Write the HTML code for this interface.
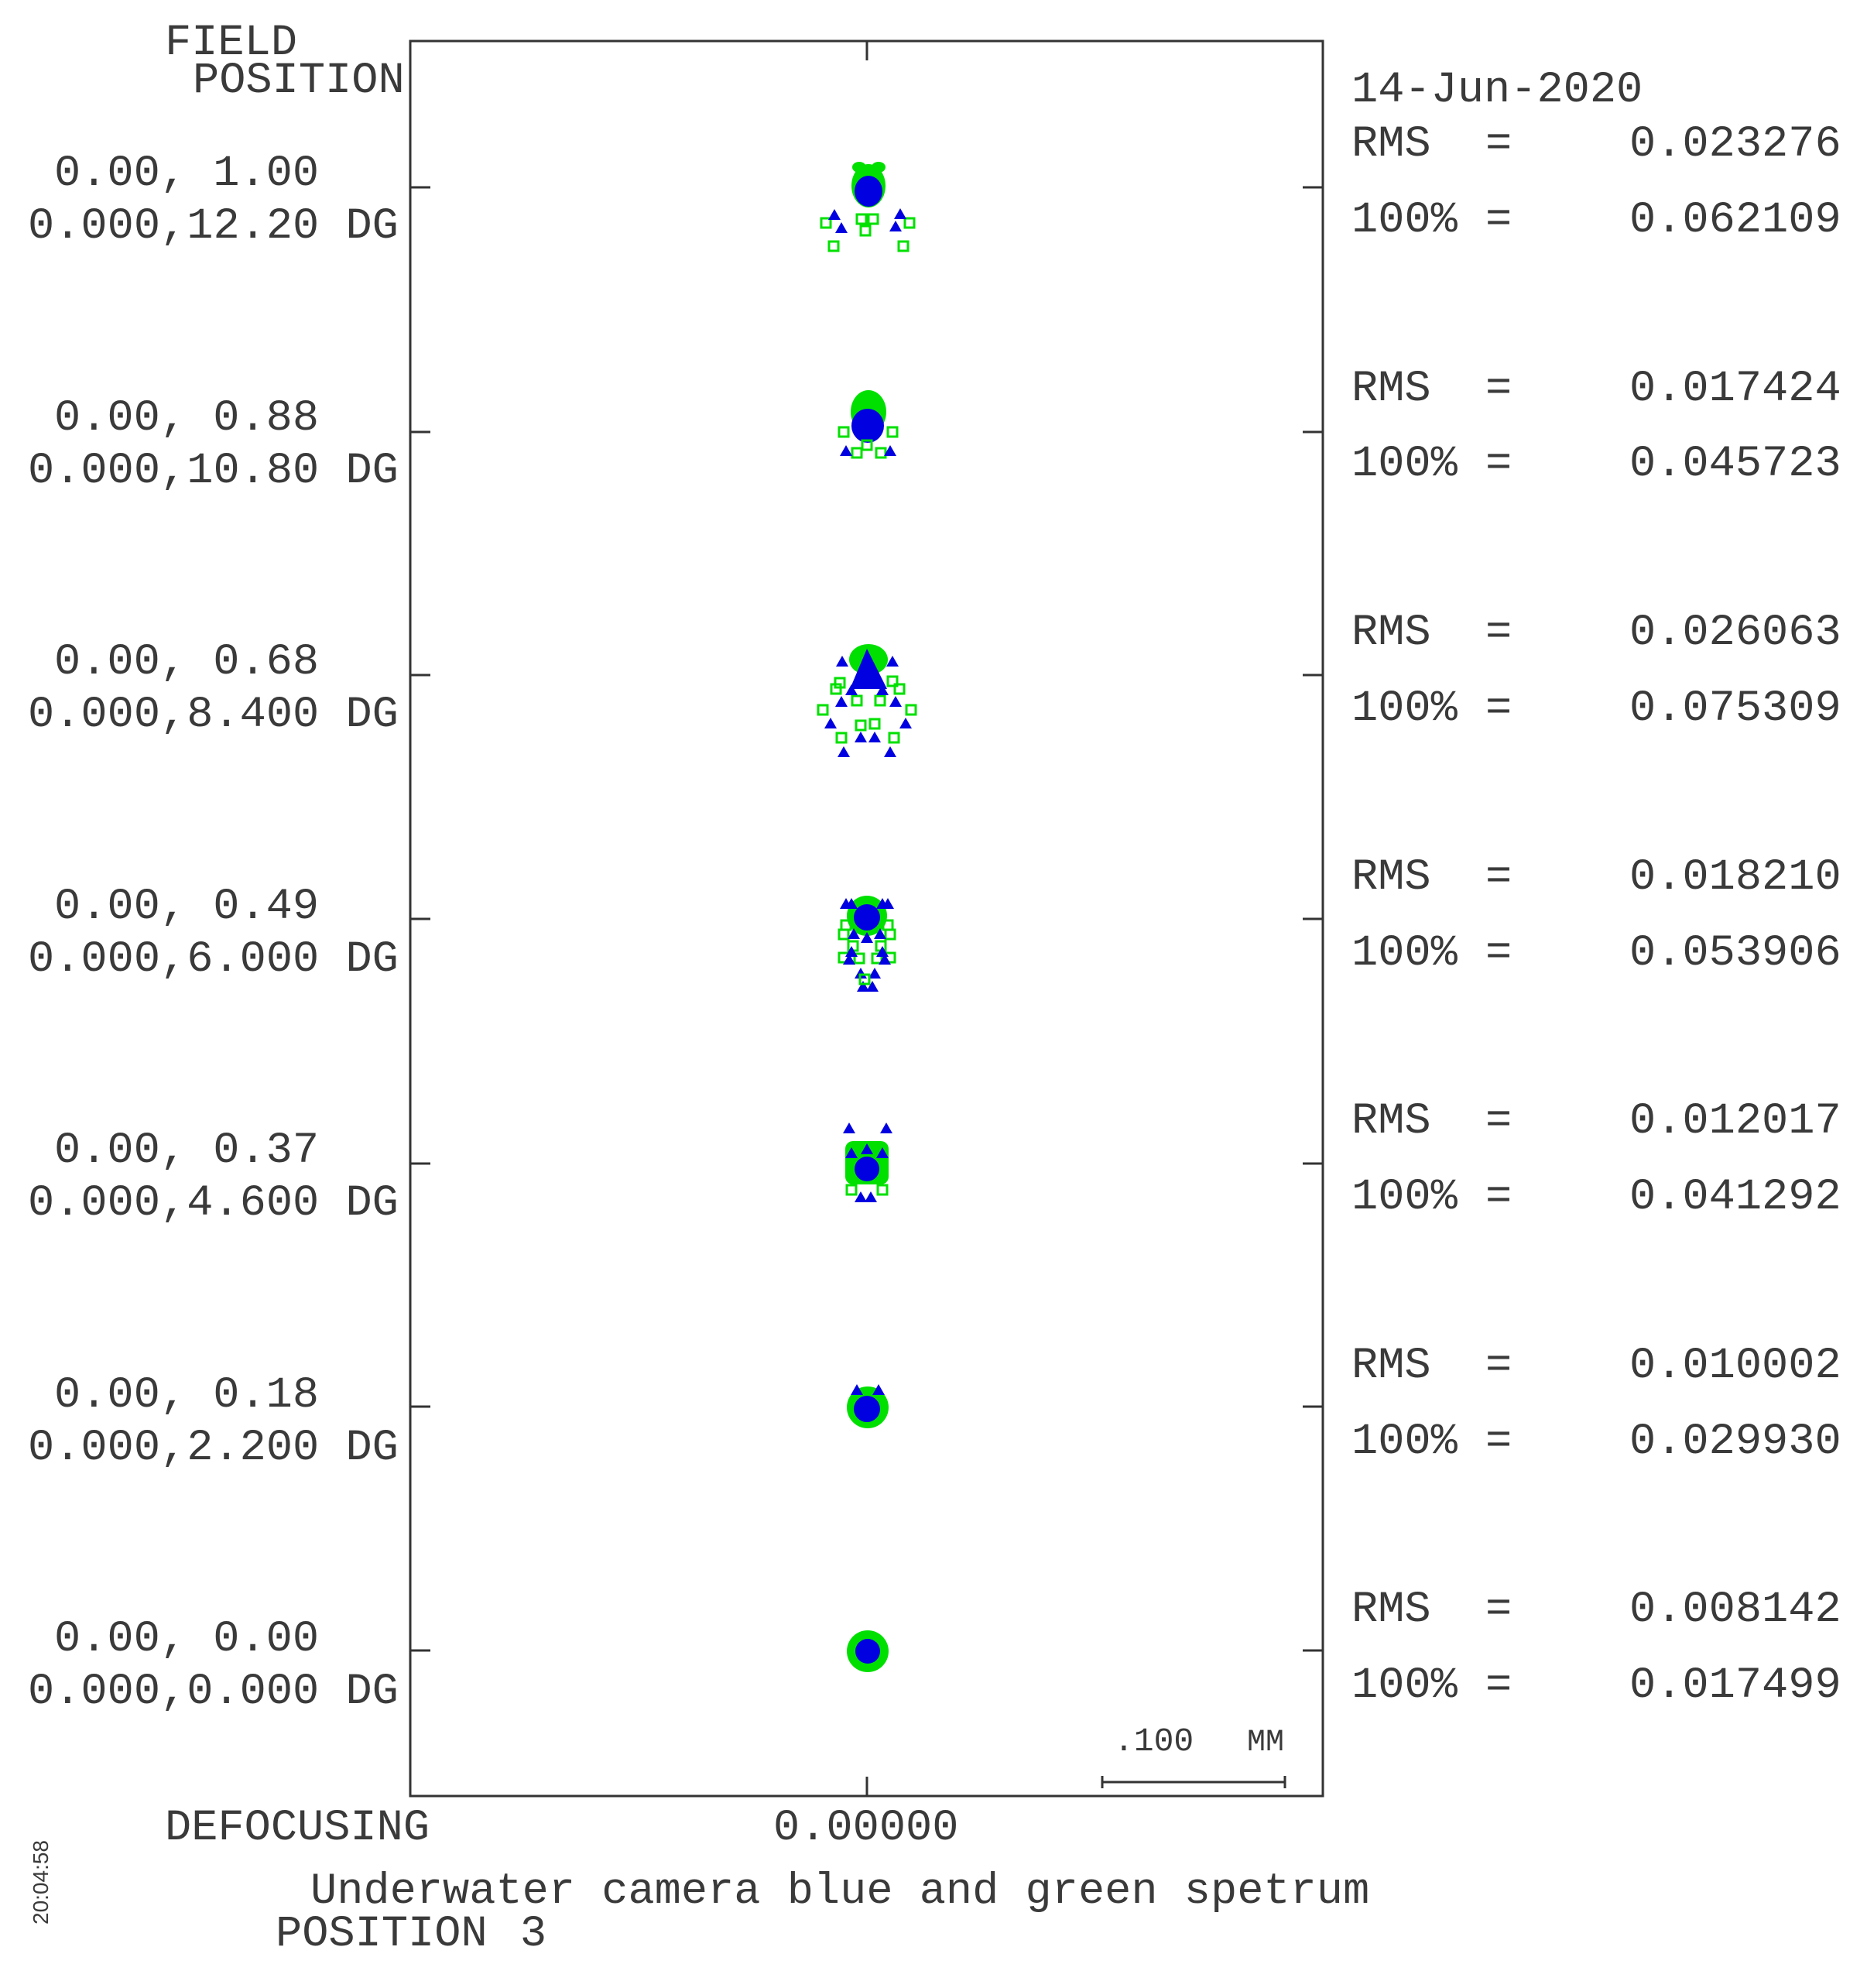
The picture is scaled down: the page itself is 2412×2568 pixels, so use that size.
<!DOCTYPE html>
<html><head><meta charset="utf-8"><style>
html,body{margin:0;padding:0;background:#fff;}
svg{display:block;}
text{font-family:"Liberation Mono",monospace;font-size:57px;fill:#3a3a3a;white-space:pre;}
</style></head><body>
<svg width="2412" height="2568" viewBox="0 0 2412 2568" xmlns="http://www.w3.org/2000/svg">
<defs>
<g id="sq"><rect x="-6" y="-6" width="12" height="12" fill="none" stroke="#00e000" stroke-width="3"/></g>
<g id="tr"><polygon points="0,-8 8,6 -8,6" fill="#0000e0"/></g>
</defs>
<rect x="530" y="53" width="1179" height="2267" fill="none" stroke="#333" stroke-width="3"/>
<g stroke="#333" stroke-width="3">
<line x1="1120" y1="53" x2="1120" y2="78"/>
<line x1="1120" y1="2320" x2="1120" y2="2295"/>
<line x1="530" y1="242" x2="556" y2="242"/><line x1="1709" y1="242" x2="1683" y2="242"/>
<line x1="530" y1="558" x2="556" y2="558"/><line x1="1709" y1="558" x2="1683" y2="558"/>
<line x1="530" y1="872" x2="556" y2="872"/><line x1="1709" y1="872" x2="1683" y2="872"/>
<line x1="530" y1="1187" x2="556" y2="1187"/><line x1="1709" y1="1187" x2="1683" y2="1187"/>
<line x1="530" y1="1503" x2="556" y2="1503"/><line x1="1709" y1="1503" x2="1683" y2="1503"/>
<line x1="530" y1="1817" x2="556" y2="1817"/><line x1="1709" y1="1817" x2="1683" y2="1817"/>
<line x1="530" y1="2132" x2="556" y2="2132"/><line x1="1709" y1="2132" x2="1683" y2="2132"/>
<line x1="1424" y1="2302" x2="1660" y2="2302"/>
<line x1="1424" y1="2294" x2="1424" y2="2310"/>
<line x1="1660" y1="2294" x2="1660" y2="2310"/>
</g>

<text x="213" y="70">FIELD</text>
<text x="249" y="119">POSITION</text>
<text x="70" y="239">0.00, 1.00</text><text x="36" y="307">0.000,12.20 DG</text>
<text x="70" y="555">0.00, 0.88</text><text x="36" y="623">0.000,10.80 DG</text>
<text x="70" y="870">0.00, 0.68</text><text x="36" y="938">0.000,8.400 DG</text>
<text x="70" y="1186">0.00, 0.49</text><text x="36" y="1254">0.000,6.000 DG</text>
<text x="70" y="1501">0.00, 0.37</text><text x="36" y="1569">0.000,4.600 DG</text>
<text x="70" y="1817">0.00, 0.18</text><text x="36" y="1885">0.000,2.200 DG</text>
<text x="70" y="2132">0.00, 0.00</text><text x="36" y="2200">0.000,0.000 DG</text>

<text x="1746" y="131">14-Jun-2020</text>
<g>
<text x="1746" y="201">RMS</text><text x="1919" y="201">=</text><text x="2105" y="201">0.023276</text>
<text x="1746" y="299">100%</text><text x="1919" y="299">=</text><text x="2105" y="299">0.062109</text>
<text x="1746" y="517">RMS</text><text x="1919" y="517">=</text><text x="2105" y="517">0.017424</text>
<text x="1746" y="614">100%</text><text x="1919" y="614">=</text><text x="2105" y="614">0.045723</text>
<text x="1746" y="832">RMS</text><text x="1919" y="832">=</text><text x="2105" y="832">0.026063</text>
<text x="1746" y="930">100%</text><text x="1919" y="930">=</text><text x="2105" y="930">0.075309</text>
<text x="1746" y="1148">RMS</text><text x="1919" y="1148">=</text><text x="2105" y="1148">0.018210</text>
<text x="1746" y="1246">100%</text><text x="1919" y="1246">=</text><text x="2105" y="1246">0.053906</text>
<text x="1746" y="1463">RMS</text><text x="1919" y="1463">=</text><text x="2105" y="1463">0.012017</text>
<text x="1746" y="1561">100%</text><text x="1919" y="1561">=</text><text x="2105" y="1561">0.041292</text>
<text x="1746" y="1779">RMS</text><text x="1919" y="1779">=</text><text x="2105" y="1779">0.010002</text>
<text x="1746" y="1877">100%</text><text x="1919" y="1877">=</text><text x="2105" y="1877">0.029930</text>
<text x="1746" y="2094">RMS</text><text x="1919" y="2094">=</text><text x="2105" y="2094">0.008142</text>
<text x="1746" y="2192">100%</text><text x="1919" y="2192">=</text><text x="2105" y="2192">0.017499</text>
</g>

<text x="1439" y="2261" style="font-size:43px">.100</text>
<text x="1611" y="2261" style="font-size:40px">MM</text>
<text x="213" y="2376">DEFOCUSING</text>
<text x="999" y="2376">0.00000</text>
<text x="401" y="2458">Underwater camera blue and green spetrum</text>
<text x="356" y="2513">POSITION <tspan dx="8">3</tspan></text>
<text transform="translate(62,2486) rotate(-90)" style="font-family:'Liberation Sans',sans-serif;font-size:28px;">20:04:58</text>

<g>
<ellipse cx="1122" cy="240" rx="22" ry="28" fill="#00e000"/>
<ellipse cx="1110" cy="216" rx="9" ry="7" fill="#00e000"/><ellipse cx="1135" cy="216" rx="9" ry="7" fill="#00e000"/>
<ellipse cx="1122" cy="247" rx="18" ry="20" fill="#0000e0"/>
<use href="#sq" x="1113" y="283"/><use href="#sq" x="1128" y="283"/><use href="#sq" x="1118" y="298"/>
<use href="#sq" x="1067" y="288"/><use href="#sq" x="1077" y="318"/><use href="#sq" x="1175" y="288"/><use href="#sq" x="1167" y="318"/>
<use href="#tr" x="1078" y="278"/><use href="#tr" x="1087" y="295"/><use href="#tr" x="1163" y="277"/><use href="#tr" x="1157" y="293"/>
</g>
<g>
<ellipse cx="1122" cy="532" rx="23" ry="28" fill="#00e000"/>
<ellipse cx="1121" cy="550" rx="21" ry="22" fill="#0000e0"/>
<use href="#sq" x="1090" y="558"/><use href="#sq" x="1153" y="558"/><use href="#sq" x="1120" y="575"/>
<use href="#sq" x="1107" y="585"/><use href="#sq" x="1138" y="585"/>
<use href="#tr" x="1093" y="583"/><use href="#tr" x="1150" y="583"/>
</g>
<g>
<ellipse cx="1122" cy="852" rx="25" ry="20" fill="#00e000"/>
<polygon points="1120,838 1146,890 1098,890" fill="#0000e0"/>
<use href="#sq" x="1085" y="882"/><use href="#sq" x="1080" y="890"/><use href="#sq" x="1153" y="880"/><use href="#sq" x="1162" y="890"/>
<use href="#sq" x="1107" y="905"/><use href="#sq" x="1137" y="905"/><use href="#sq" x="1063" y="917"/><use href="#sq" x="1177" y="917"/>
<use href="#sq" x="1112" y="937"/><use href="#sq" x="1130" y="935"/><use href="#sq" x="1087" y="953"/><use href="#sq" x="1155" y="953"/>
<use href="#tr" x="1088" y="855"/><use href="#tr" x="1153" y="855"/><use href="#tr" x="1087" y="907"/><use href="#tr" x="1157" y="907"/>
<use href="#tr" x="1073" y="935"/><use href="#tr" x="1170" y="935"/><use href="#tr" x="1112" y="953"/><use href="#tr" x="1130" y="953"/>
<use href="#tr" x="1090" y="972"/><use href="#tr" x="1150" y="972"/><use href="#tr" x="1100" y="892"/><use href="#tr" x="1140" y="892"/>
</g>
<g>
<circle cx="1120" cy="1183" r="26" fill="#00e000"/>
<circle cx="1120" cy="1185" r="17" fill="#0000e0"/>
<use href="#tr" x="1093" y="1168"/><use href="#tr" x="1147" y="1168"/><use href="#tr" x="1100" y="1168"/><use href="#tr" x="1140" y="1168"/>
<use href="#sq" x="1090" y="1207"/><use href="#sq" x="1150" y="1207"/><use href="#sq" x="1093" y="1195"/><use href="#sq" x="1147" y="1195"/>
<use href="#tr" x="1103" y="1207"/><use href="#tr" x="1137" y="1207"/><use href="#tr" x="1120" y="1212"/>
<use href="#sq" x="1102" y="1222"/><use href="#sq" x="1138" y="1222"/>
<use href="#sq" x="1090" y="1237"/><use href="#sq" x="1110" y="1238"/><use href="#sq" x="1133" y="1238"/><use href="#sq" x="1150" y="1237"/>
<use href="#tr" x="1100" y="1230"/><use href="#tr" x="1140" y="1230"/><use href="#tr" x="1097" y="1240"/><use href="#tr" x="1143" y="1240"/>
<use href="#tr" x="1112" y="1258"/><use href="#tr" x="1130" y="1258"/><use href="#tr" x="1115" y="1275"/><use href="#tr" x="1127" y="1275"/>
<use href="#sq" x="1117" y="1265"/>
</g>
<g>
<use href="#tr" x="1097" y="1458"/><use href="#tr" x="1145" y="1458"/>
<rect x="1092" y="1474" width="56" height="56" rx="10" fill="#00e000"/>
<circle cx="1120" cy="1510" r="16" fill="#0000e0"/>
<use href="#tr" x="1100" y="1490"/><use href="#tr" x="1140" y="1490"/><use href="#tr" x="1120" y="1485"/>
<use href="#sq" x="1100" y="1537"/><use href="#sq" x="1140" y="1537"/>
<use href="#tr" x="1112" y="1547"/><use href="#tr" x="1125" y="1547"/>
</g>
<g>
<circle cx="1121" cy="1818" r="27" fill="#00e000"/>
<circle cx="1120" cy="1820" r="17" fill="#0000e0"/>
<use href="#tr" x="1107" y="1796"/><use href="#tr" x="1135" y="1796"/>
</g>
<g>
<circle cx="1121" cy="2133" r="27" fill="#00e000"/>
<circle cx="1121" cy="2133" r="16" fill="#0000e0"/>
</g>
</svg>
</body></html>
